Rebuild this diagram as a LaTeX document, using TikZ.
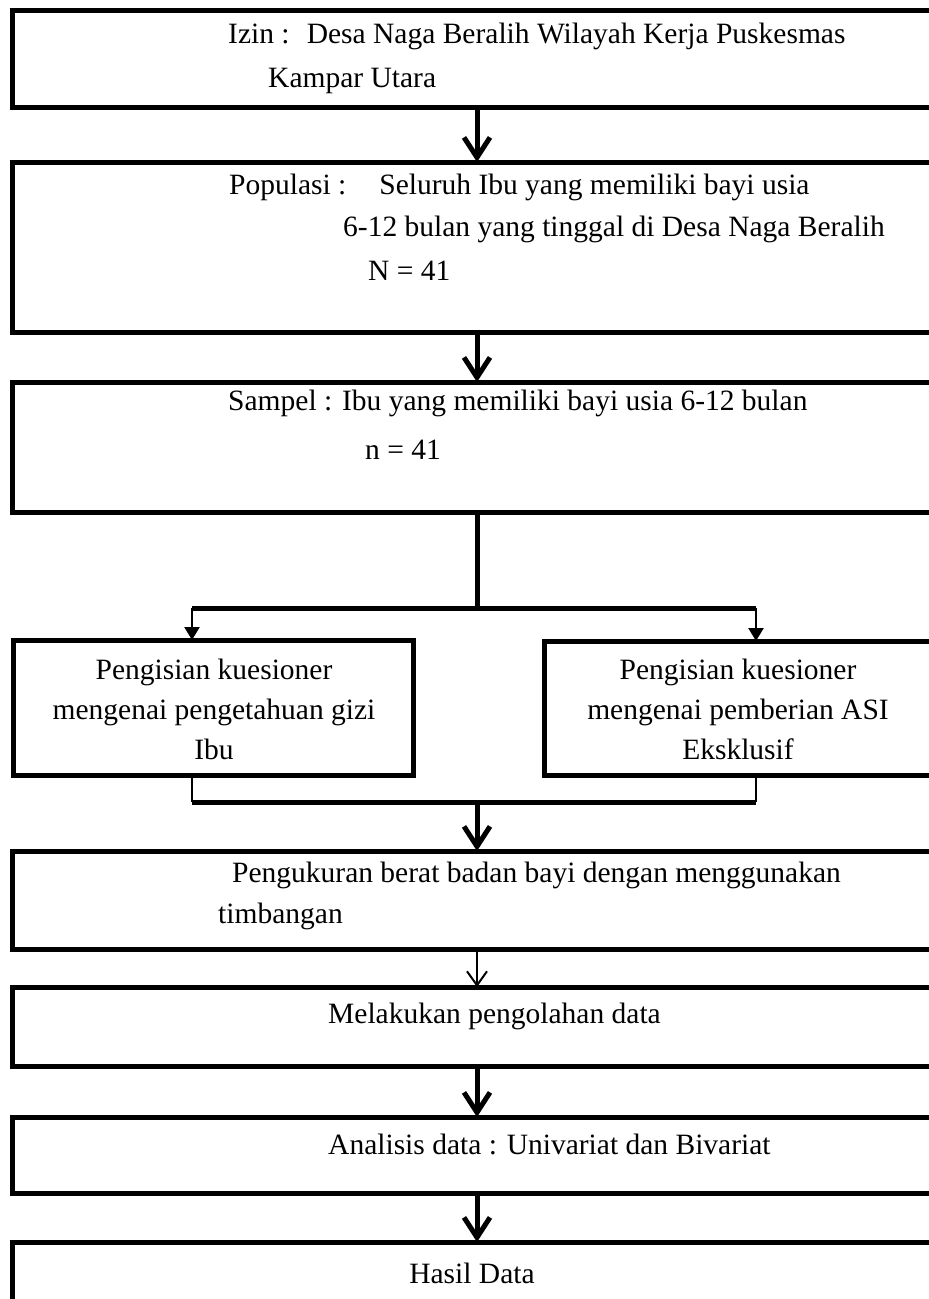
\documentclass[tikz,border=0pt]{standalone}
\usepackage{fontspec}
\setmainfont{Liberation Serif}
\usepackage{tikz}
\usetikzlibrary{arrows.meta, positioning, calc}
\tikzstyle{kotak} = [
    rectangle, draw,
    line width=5pt,
    inner sep=0pt, outer sep=0pt,
]
\tikzstyle{lebar} = [
    kotak,
    minimum width=933pt,
]
\tikzstyle{teks} = [
    inner sep=0pt, anchor=west,
    text height=20pt, text depth=6.5pt,
    font=\fontsize{29.5}{40}\selectfont,
]
\tikzstyle{teksblok} = [
    inner sep=0pt, align=center,
    font=\fontsize{29.5}{40}\selectfont,
]
\tikzstyle{tebal} = [line width=5pt]
\tikzstyle{tipis} = [line width=2.5pt]
\tikzstyle{panah} = [tebal, -{Straight Barb[length=20pt,width=26pt]}]
\tikzstyle{panahtipis} = [line width=2pt, -{Straight Barb[length=14pt,width=20pt]}]
\tikzstyle{cabang} = [tipis, -{Triangle[length=13pt,width=15pt]}]

\begin{document}
\begin{tikzpicture}[x=1pt, y=-1pt]
    \useasboundingbox (0,0) rectangle (929,1299);

    % boxes
    \node (izin) at (478.5, 58.5) [lebar, minimum height=97pt] {};
    \node (populasi) at (478.5, 247) [lebar, minimum height=170pt] {};
    \node (sampel) at (478.5, 447) [lebar, minimum height=130pt] {};
    \node (kiri) at (213, 707.5) [kotak, minimum width=400pt, minimum height=135pt] {};
    \node (kanan) at (744.5, 708) [kotak, minimum width=401pt, minimum height=134pt] {};
    \node (pengukuran) at (478.5, 900) [lebar, minimum height=98pt] {};
    \node (olah) at (478.5, 1026.5) [lebar, minimum height=79pt] {};
    \node (analisis) at (478.5, 1155) [lebar, minimum height=76pt] {};
    \node (hasil) at (478.5, 1291) [lebar, minimum height=98pt] {};

    % texts
    \node (izin1) at (228, 37) [teks] {Izin :~ Desa Naga Beralih Wilayah Kerja Puskesmas};
    \node (izin2) at (268, 81) [teks] {Kampar Utara};
    \node (pop1) at (229, 188) [teks] {Populasi :\hspace{33pt}Seluruh Ibu yang memiliki bayi usia};
    \node (pop2) at (343, 230) [teks] {6-12 bulan yang tinggal di Desa Naga Beralih};
    \node (pop3) at (368, 274) [teks] {N = 41};
    \node (sampel1) at (228, 404) [teks] {Sampel : Ibu yang memiliki bayi usia 6-12 bulan};
    \node (sampel2) at (365, 453) [teks] {n = 41};
    \node (kiriteks) at (214, 709) [teksblok] {Pengisian kuesioner\\mengenai pengetahuan gizi\\Ibu};
    \node (kananteks) at (738, 709) [teksblok] {Pengisian kuesioner\\mengenai pemberian ASI\\Eksklusif};
    \node (ukur1) at (232, 876) [teks] {Pengukuran berat badan bayi dengan menggunakan};
    \node (ukur2) at (218, 917) [teks] {timbangan};
    \node (olahteks) at (328, 1017) [teks] {Melakukan pengolahan data};
    \node (analisisteks) at (328, 1148) [teks] {Analisis data : Univariat dan Bivariat};
    \node (hasilteks) at (472, 1273) [teksblok] {Hasil Data};

    % arrows
    \coordinate (poros) at (477, 0);
    \coordinate (cabangkiri) at (192, 608);
    \coordinate (cabangkanan) at (756, 608);
    \coordinate (gabungkiri) at (192, 802);
    \coordinate (gabungkanan) at (756, 802);

    \draw [panah] (izin.south -| poros) to (populasi.north -| poros);
    \draw [panah] (populasi.south -| poros) to (sampel.north -| poros);
    \draw [tebal] (sampel.south -| poros) to (poros |- cabangkiri);
    \draw [tebal] (cabangkiri) to (cabangkanan);
    \draw [cabang] (cabangkiri) to (cabangkiri |- kiri.north);
    \draw [cabang] (cabangkanan) to (cabangkanan |- kanan.north);
    \draw [tipis] (kiri.south -| gabungkiri) to (gabungkiri);
    \draw [tebal] (gabungkiri) to (gabungkanan);
    \draw [tipis] (gabungkanan) to (kanan.south -| gabungkanan);
    \draw [panah] (poros |- gabungkiri) to (pengukuran.north -| poros);
    \draw [panahtipis] (pengukuran.south -| poros) to (olah.north -| poros);
    \draw [panah] (olah.south -| poros) to (analisis.north -| poros);
    \draw [panah] (analisis.south -| poros) to (hasil.north -| poros);

\end{tikzpicture}
\end{document}
